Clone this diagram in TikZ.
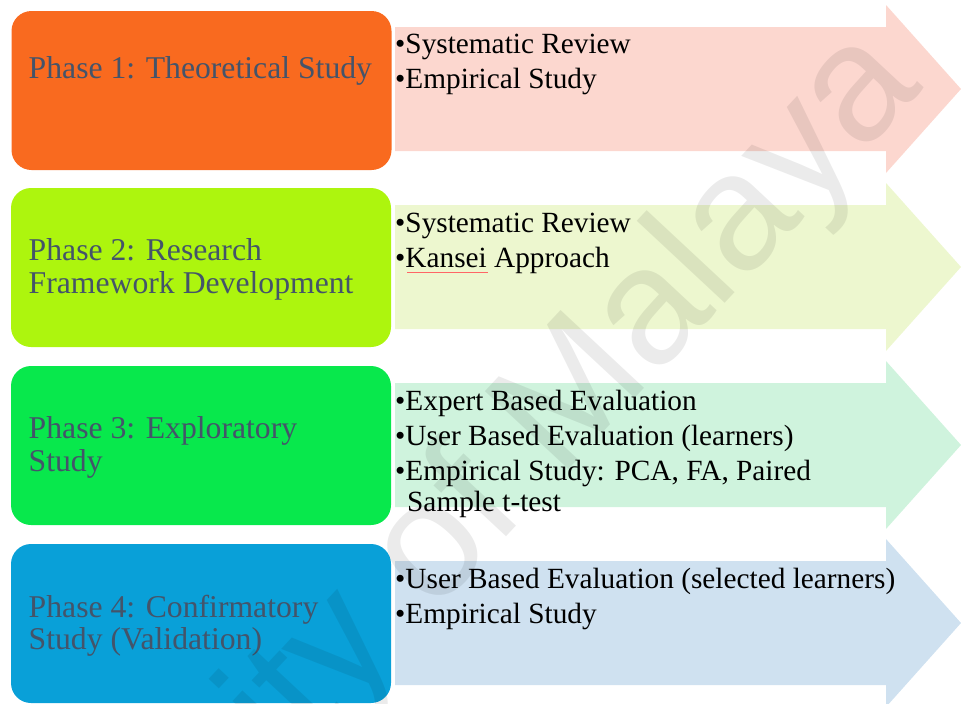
\documentclass[tikz,border=0pt]{standalone}
\usepackage{fontspec}
\setmainfont{Liberation Serif}
\newfontfamily\wmfont{Liberation Sans}
\definecolor{boxA}{HTML}{F96A1F}
\definecolor{boxB}{HTML}{ADF50E}
\definecolor{boxC}{HTML}{08E84C}
\definecolor{boxD}{HTML}{09A0D8}
\definecolor{arrA}{HTML}{FCD7CF}
\definecolor{arrB}{HTML}{EDF7CF}
\definecolor{arrC}{HTML}{CFF3DD}
\definecolor{arrD}{HTML}{CFE1F0}
\definecolor{phasetxt}{HTML}{44546A}
\begin{document}
\begin{tikzpicture}[x=1pt,y=-1pt,
  phasebox/.style={rectangle, rounded corners=20pt, minimum width=380pt, minimum height=159pt, inner sep=0pt, draw=none},
  phasetext/.style={anchor=base west, inner sep=0pt, text=phasetxt, font=\fontsize{31.7}{34}\selectfont},
  itemtext/.style={anchor=base west, inner sep=0pt, text=black, font=\fontsize{29.3}{32}\selectfont},
  wmark/.style={anchor=base east, inner sep=0pt, text=black, text opacity=0.08, font=\wmfont\fontsize{166}{170}\selectfont},
]
\useasboundingbox (0,0) rectangle (961,704);
% arrows
\foreach \c/\col in {89/arrA,267/arrB,445/arrC,623/arrD}{
  \fill[\col] (395,{\c-62}) -- (886,{\c-62}) -- (886,{\c-84}) -- (961,\c)
     -- (886,{\c+84}) -- (886,{\c+62}) -- (395,{\c+62}) -- cycle;
}
% phase boxes
\node[phasebox, fill=boxA] (b1) at (201.5,90.5) {};
\node[phasebox, fill=boxB] (b2) at (201,267.5) {};
\node[phasebox, fill=boxC] (b3) at (201,445.5) {};
\node[phasebox, fill=boxD] (b4) at (201,623.5) {};
% phase texts
\node[phasetext] (t1) at (28.5,78) {Phase 1: Theoretical Study};
\node[phasetext] (t2a) at (28.5,260) {Phase 2: Research};
\node[phasetext] (t2b) at (28.5,293) {Framework Development};
\node[phasetext] (t3a) at (28.5,438) {Phase 3: Exploratory};
\node[phasetext] (t3b) at (28.5,471) {Study};
\node[phasetext] (t4a) at (28.5,617) {Phase 4: Confirmatory};
\node[phasetext] (t4b) at (28.5,649) {Study (Validation)};
% items
\node[itemtext] (i11) at (395,53) {•Systematic Review};
\node[itemtext] (i12) at (395,88) {•Empirical Study};
\node[itemtext] (i21) at (395,232) {•Systematic Review};
\node[itemtext] (i22) at (395,267) {•Kansei Approach};
\node[itemtext] (i31) at (395,410) {•Expert Based Evaluation};
\node[itemtext] (i32) at (395,445) {•User Based Evaluation (learners)};
\node[itemtext] (i33) at (395,480) {•Empirical Study: PCA, FA, Paired};
\node[itemtext] (i34) at (407,511) {Sample t-test};
\node[itemtext] (i41) at (395,588) {•User Based Evaluation (selected learners)};
\node[itemtext] (i42) at (395,623) {•Empirical Study};
% spell-check underline under Kansei
\coordinate (ku1) at (407,272);
\coordinate (ku2) at (488,272);
\draw[red!60, line width=0.5pt] (ku1) -- (ku2);
% watermark
\node[wmark, rotate=47] (wm) at (925,88) {University of Malaya};
\end{tikzpicture}
\end{document}
